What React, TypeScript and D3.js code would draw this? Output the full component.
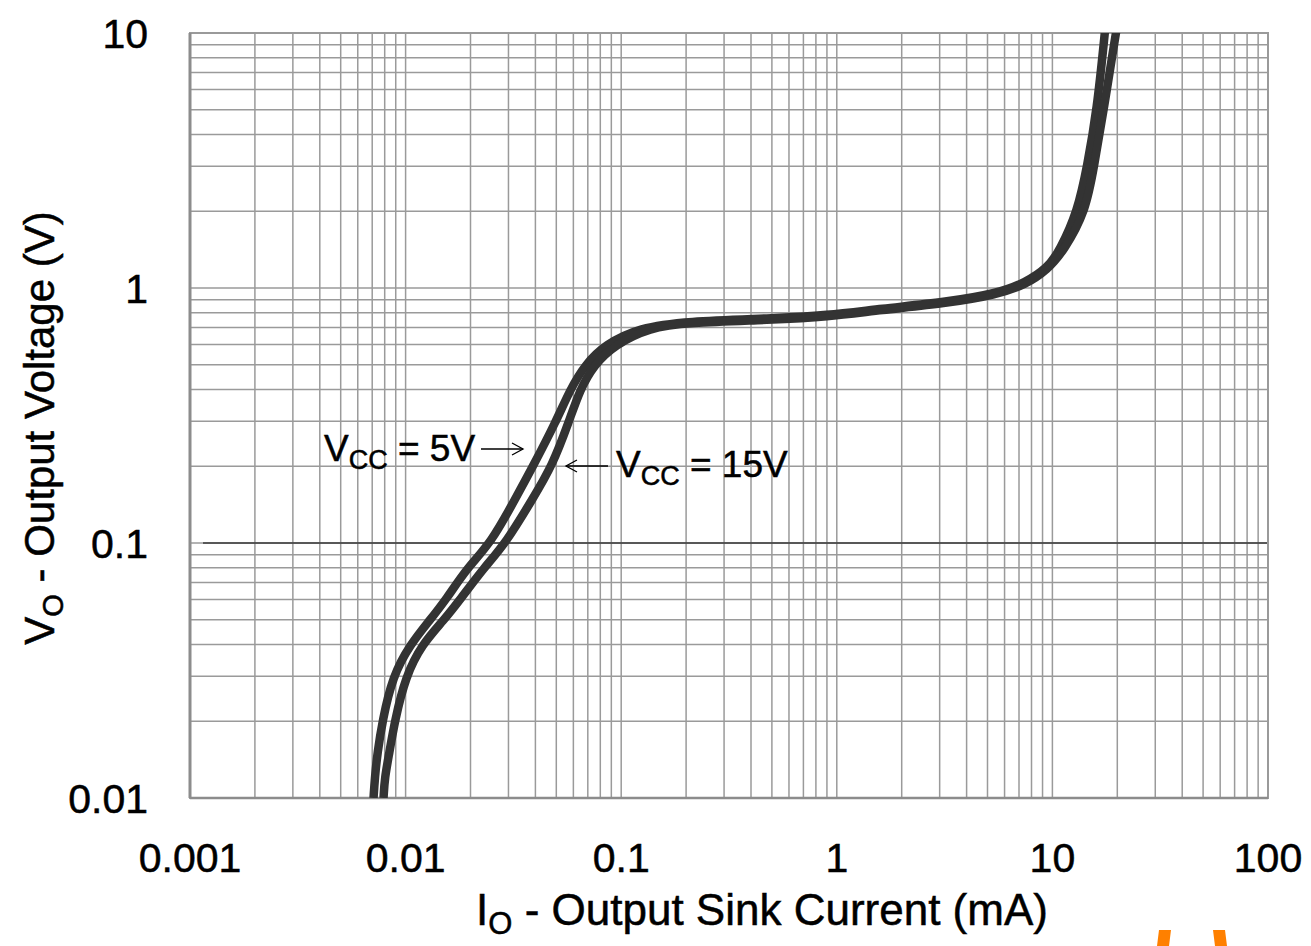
import React from "react";
import * as d3 from "d3";

// Data
const xTickValues = [0.001, 0.01, 0.1, 1, 10, 100];
const xTickLabels = ["0.001", "0.01", "0.1", "1", "10", "100"];
const yTickValues = [0.01, 0.1, 1, 10];
const yTickLabels = ["0.01", "0.1", "1", "10"];

const i5 = [0.0071, 0.0072, 0.0074, 0.0078, 0.0087, 0.0105, 0.013, 0.0154, 0.0193, 0.0249, 0.0324, 0.039, 0.0499, 0.058, 0.068, 0.084, 0.122, 0.2, 0.5, 0.9, 1.6, 3.2, 5.5, 7.5, 9.5, 10.8, 13.1, 14.5, 16.1, 17.5, 17.6];
const v5 = [0.01, 0.012, 0.015, 0.02, 0.03, 0.04, 0.05, 0.06, 0.08, 0.1, 0.15, 0.2, 0.3, 0.4, 0.5, 0.6, 0.7, 0.74, 0.76, 0.78, 0.83, 0.88, 0.95, 1.05, 1.2, 1.4, 2, 3, 5, 10, 10.5];

const i15 = [0.0079, 0.008, 0.0084, 0.0089, 0.01, 0.0119, 0.0151, 0.0179, 0.0231, 0.0292, 0.039, 0.0478, 0.0573, 0.0644, 0.0748, 0.0936, 0.136, 0.2, 0.5, 0.9, 1.6, 3.2, 5.5, 7.5, 9.5, 11.3, 14.3, 15.6, 17.3, 19.7, 19.9];
const v15 = [0.01, 0.012, 0.015, 0.02, 0.03, 0.04, 0.05, 0.06, 0.08, 0.1, 0.15, 0.2, 0.3, 0.4, 0.5, 0.6, 0.7, 0.73, 0.75, 0.77, 0.82, 0.87, 0.94, 1.03, 1.18, 1.4, 2, 3, 5, 10, 10.5];

const FONT = "'Liberation Sans', Arial, sans-serif";

export default function App() {
  const W = 1311, H = 946;
  const L = 190, R = 1268, T = 33, B = 798;
  const x = d3.scaleLog().domain([0.001, 100]).range([L, R]);
  const y = d3.scaleLog().domain([0.01, 10]).range([B, T]);

  const minorX: number[] = [];
  for (let e = -3; e < 2; e++) for (let k = 1; k <= 9; k++) minorX.push(k * Math.pow(10, e));
  minorX.push(100);
  const minorY: number[] = [];
  for (let e = -2; e < 1; e++) for (let k = 1; k <= 9; k++) minorY.push(k * Math.pow(10, e));
  minorY.push(10);

  const line = d3
    .line<[number, number]>()
    .x((d) => x(d[0]))
    .y((d) => y(d[1]))
    .curve(d3.curveBasis);

  const p5 = line(i5.map((v, i) => [v, v5[i]] as [number, number])) || "";
  const p15 = line(i15.map((v, i) => [v, v15[i]] as [number, number])) || "";

  const gridColor = "#9a9a9a";
  const txt = { fill: "#000", stroke: "#000", strokeWidth: 0.5 };

  return (
    <svg
      width={W}
      height={H}
      style={{ position: "absolute", left: 0, top: 0, background: "#fff" }}
      fontFamily={FONT}
    >
      <defs>
        <clipPath id="plotclip">
          <rect x={L} y={T} width={R - L} height={B - T} />
        </clipPath>
      </defs>
      <rect x={0} y={0} width={W} height={H} fill="#fff" />
      {/* grid */}
      {minorX.map((v, i) => (
        <line key={"gx" + i} x1={x(v)} x2={x(v)} y1={T} y2={B} stroke={gridColor} strokeWidth={1.5} />
      ))}
      {minorY.map((v, i) => (
        <line key={"gy" + i} x1={L} x2={R} y1={y(v)} y2={y(v)} stroke={gridColor} strokeWidth={1.5} />
      ))}
      <line x1={203} x2={R} y1={y(0.1)} y2={y(0.1)} stroke="#3a3a3a" strokeWidth={1.5} />
      {/* frame */}
      <rect x={L} y={T} width={R - L} height={B - T} fill="none" stroke="#9a9a9a" strokeWidth={2} />
      <line x1={L} x2={L} y1={T} y2={B} stroke="#8c8c8c" strokeWidth={3} />
      <line x1={L} x2={R} y1={B} y2={B} stroke="#8c8c8c" strokeWidth={2.5} />

      {/* curves */}
      <g clipPath="url(#plotclip)">
        <path d={p5} fill="none" stroke="#333" strokeWidth={8.5} strokeLinejoin="round" />
        <path d={p15} fill="none" stroke="#333" strokeWidth={8.5} strokeLinejoin="round" />
      </g>

      {/* tick labels */}
      {xTickValues.map((v, i) => (
        <text key={"xt" + i} x={x(v)} y={872} fontSize={41} textAnchor="middle" {...txt}>
          {xTickLabels[i]}
        </text>
      ))}
      {yTickValues.map((v, i) => (
        <text key={"yt" + i} x={148} y={y(v) + 14.5} fontSize={41} textAnchor="end" {...txt}>
          {yTickLabels[i]}
        </text>
      ))}

      {/* axis titles */}
      <text x={762} y={925} fontSize={44} textAnchor="middle" {...txt}>
        I<tspan fontSize={31} dy={9}>O</tspan>
        <tspan dy={-9}> - Output Sink Current (mA)</tspan>
      </text>
      <text transform="translate(54,428) rotate(-90)" fontSize={42} textAnchor="middle" {...txt}>
        V<tspan fontSize={29} dy={9}>O</tspan>
        <tspan dy={-9}> - Output Voltage (V)</tspan>
      </text>

      {/* annotations */}
      <text x={324} y={461} fontSize={37} {...txt}>
        V<tspan fontSize={27} dy={8}>CC</tspan>
        <tspan dy={-8}> = 5V</tspan>
      </text>
      <g stroke="#000" strokeWidth={1.3} fill="none">
        <line x1={481} x2={523} y1={449} y2={449} />
        <polyline points="512,443 523,449 512,455" />
        <line x1={566} x2={608} y1={466} y2={466} />
        <polyline points="577,460 566,466 577,472" />
      </g>
      <text x={616} y={477} fontSize={37} {...txt}>
        V<tspan fontSize={27} dy={8}>CC</tspan>
        <tspan dy={-8}> = 15V</tspan>
      </text>

      {/* partial orange watermark at bottom edge */}
      <path d="M1159,930 L1171,930 L1169,946 L1157,946 Z" fill="#ff8000" />
      <path d="M1213,930 L1225,930 L1227,946 L1215,946 Z" fill="#ff8000" />
    </svg>
  );
}
